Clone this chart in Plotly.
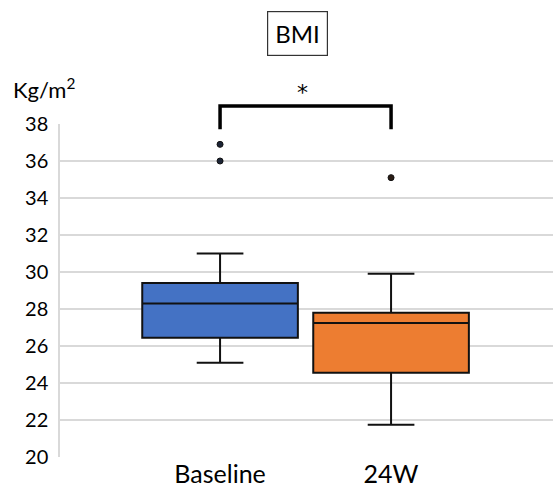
import plotly.graph_objects as go

categories = ["Baseline", "24W"]
q1 = [26.45, 24.55]
median = [28.3, 27.25]
q3 = [29.4, 27.8]
lower_whisker = [25.1, 21.75]
upper_whisker = [31.0, 29.9]
outliers = [[36.9, 36.0], [35.1]]
colors = ["#4472C4", "#ED7D31"]
outlier_colors = ["#1c2436", "#2a1c14"]
y_ticks = [20, 22, 24, 26, 28, 30, 32, 34, 36, 38]
y_range = [20, 38]
x_range = [-0.936, 1.947]
bracket_y = 38.97
bracket_foot = 37.72
star_y = 38.9

FONT = "Lato, Open Sans, sans-serif"


def px(xv):
    return (xv - x_range[0]) / (x_range[1] - x_range[0])


def py(yv):
    return (yv - y_range[0]) / (y_range[1] - y_range[0])


fig = go.Figure()
for i, cat in enumerate(categories):
    fig.add_trace(go.Box(
        x=[i], q1=[q1[i]], median=[median[i]], q3=[q3[i]],
        lowerfence=[lower_whisker[i]], upperfence=[upper_whisker[i]],
        fillcolor=colors[i], line=dict(color="#111111", width=2),
        width=0.91, whiskerwidth=0.3, boxpoints=False, showlegend=False,
        hoverinfo="skip",
    ))
    fig.add_trace(go.Scatter(
        x=[i] * len(outliers[i]), y=outliers[i], mode="markers",
        marker=dict(color=outlier_colors[i], size=6, line=dict(color="#111111", width=1)),
        showlegend=False, cliponaxis=False,
    ))

# significance bracket (paper coords derived from data positions so it is not clipped)
x0, x1 = px(0), px(1)
yt, yf = py(bracket_y), py(bracket_foot)
fig.add_shape(type="path",
              path=f"M {x0} {yf} L {x0} {yt} L {x1} {yt} L {x1} {yf}",
              xref="paper", yref="paper", line=dict(color="black", width=3.5))
fig.add_annotation(x=px(0.485), y=py(star_y), xref="paper", yref="paper", text="*",
                   showarrow=False, yanchor="bottom",
                   font=dict(family="DejaVu Sans", size=22, color="black"))

fig.add_annotation(x=0.481, y=1.273, xref="paper", yref="paper",
                   xanchor="center", yanchor="middle", text="BMI", showarrow=False,
                   font=dict(family=FONT, size=24, color="black"),
                   bordercolor="#333333", borderwidth=1.2, borderpad=7,
                   bgcolor="white")
fig.add_annotation(x=-0.1, y=1.108, xref="paper", yref="paper",
                   xanchor="left", yanchor="middle", text="Kg/m<sup>2</sup>",
                   showarrow=False, font=dict(family=FONT, size=22, color="black"))

fig.update_layout(
    width=553, height=496,
    margin=dict(l=60, r=0, t=124, b=39),
    plot_bgcolor="white", paper_bgcolor="white",
    font=dict(family=FONT, color="black"),
)
fig.update_xaxes(
    range=x_range, tickvals=[0, 1], ticktext=categories,
    tickfont=dict(size=25, family=FONT, color="black"),
    showgrid=False, zeroline=False, showline=False, ticks="", ticklen=0,
)
fig.update_yaxes(
    range=y_range, tickvals=y_ticks,
    tickfont=dict(size=20, family=FONT, color="black"),
    gridcolor="#d9d9d9", gridwidth=1.5, zeroline=False,
    showline=True, linecolor="#d9d9d9", linewidth=1.5,
    ticks="", ticklabelstandoff=6,
)
fig.write_html("out.html")
